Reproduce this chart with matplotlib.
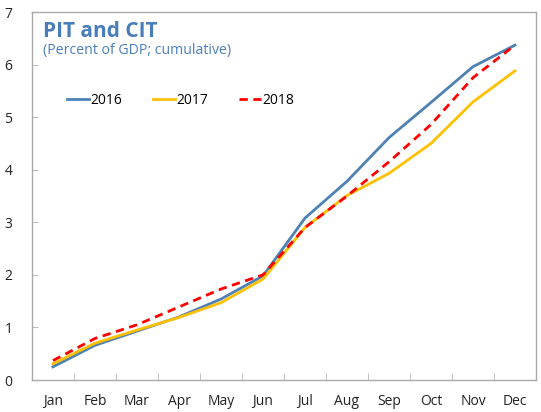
import matplotlib
matplotlib.use("Agg")
import matplotlib.pyplot as plt

months = ["Jan", "Feb", "Mar", "Apr", "May", "Jun", "Jul", "Aug", "Sep", "Oct", "Nov", "Dec"]
s2016 = [0.25, 0.66, 0.93, 1.20, 1.54, 1.98, 3.08, 3.78, 4.61, 5.28, 5.96, 6.37]
s2017 = [0.31, 0.70, 0.95, 1.19, 1.47, 1.92, 2.90, 3.51, 3.93, 4.50, 5.29, 5.88]
s2018 = [0.37, 0.79, 1.05, 1.39, 1.73, 2.00, 2.90, 3.50, 4.15, 4.86, 5.75, 6.37]
yticks = [0, 1, 2, 3, 4, 5, 6, 7]

plt.rcParams['font.family'] = ['Open Sans', 'DejaVu Sans']

fig = plt.figure(figsize=(5.41, 4.12), dpi=100)
ax = fig.add_axes([32/541, 32/412, (536-32)/541, (380-12)/412])

x = list(range(len(months)))
ax.plot(x, s2016, color="#4E81B4", lw=2.0, label="2016")
ax.plot(x, s2017, color="#FFC000", lw=2.0, label="2017")
ax.plot(x, s2018, color="#FF0000", lw=2.0, ls=(0, (3, 2)), label="2018")

ax.set_xlim(-0.5, 11.5)
ax.set_ylim(0, 7)
ax.set_yticks(yticks)
ax.set_xticks(x)
ax.set_xticklabels(months)
ax.set_xticks([i + 0.5 for i in range(-1, 12)], minor=True)
ax.tick_params(axis='x', which='major', length=0, pad=10, labelsize=10, colors="#222222")
ax.tick_params(axis='x', which='minor', length=5, direction='in', color="#BBBBBB")
ax.tick_params(axis='y', which='major', length=4, direction='in', color="#BBBBBB", labelsize=10, labelcolor="#222222", pad=14)

for sp in ax.spines.values():
    sp.set_color("#AAAAAA")
    sp.set_linewidth(1.0)

ax.text(0.022, (380-37)/368, "PIT and CIT", transform=ax.transAxes, fontsize=15, fontweight='bold',
        color="#4A7EBB", va='baseline', ha='left')
ax.text(0.022, (380-54)/368, "(Percent of GDP; cumulative)", transform=ax.transAxes, fontsize=10.2,
        color="#4A7EBB", va='baseline', ha='left')

leg = ax.legend(loc='upper left', bbox_to_anchor=(0.045, 0.815), ncol=3, frameon=False,
                fontsize=10, handlelength=1.6, handletextpad=0.1, columnspacing=2.2)

fig.savefig("out.png", dpi=100)
